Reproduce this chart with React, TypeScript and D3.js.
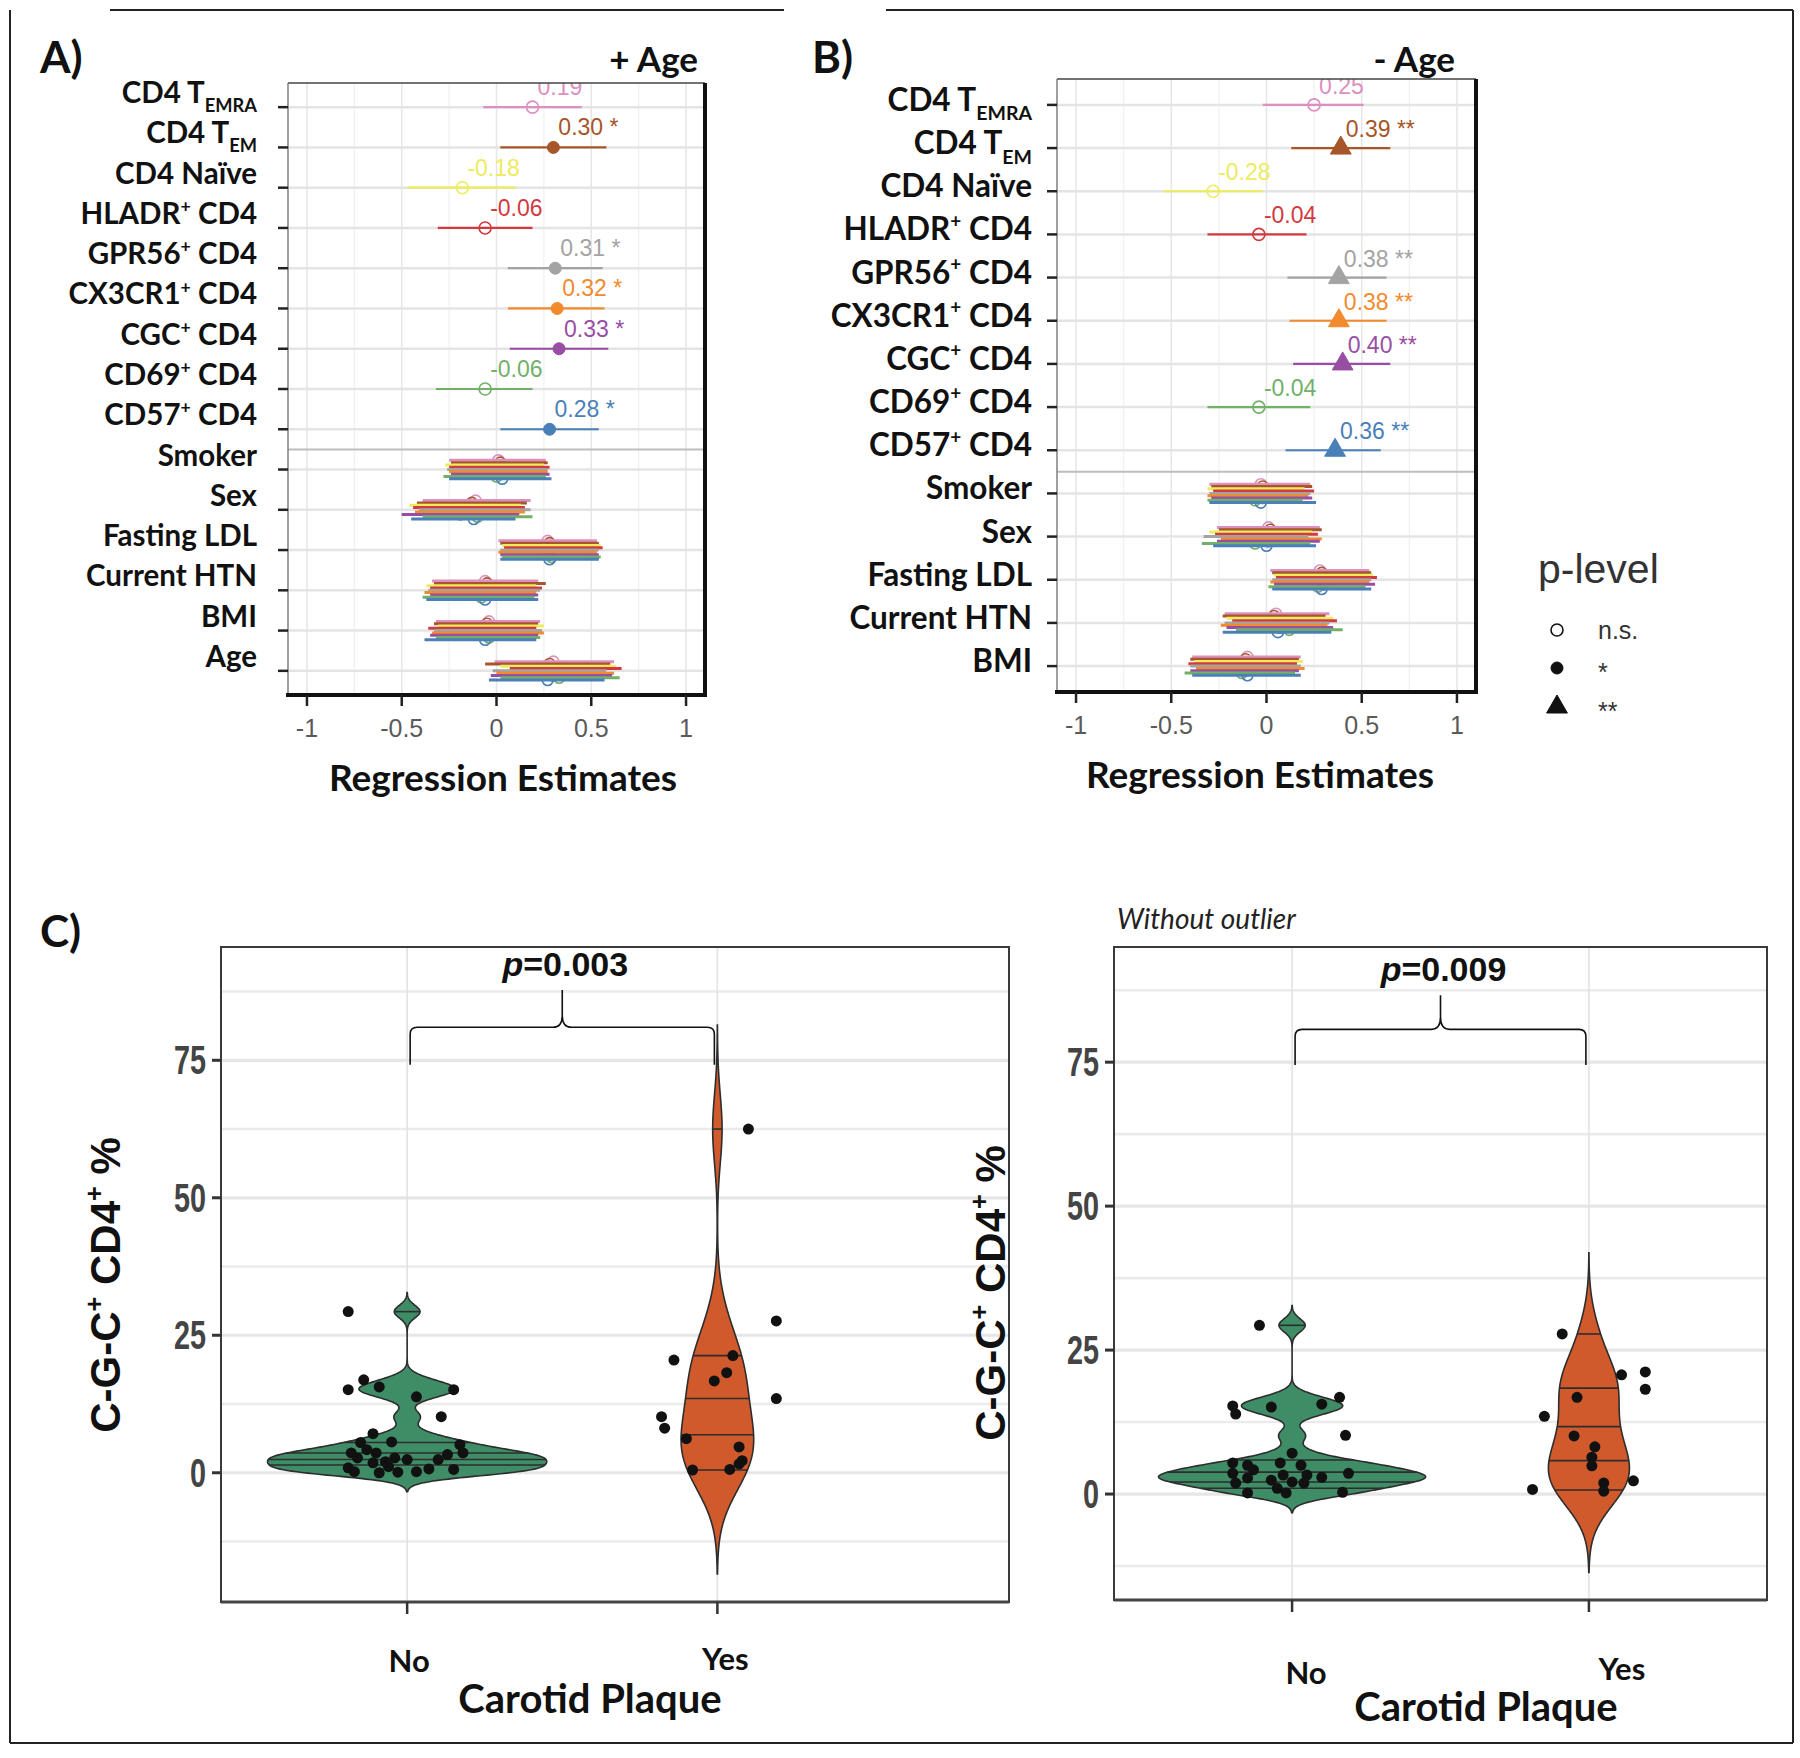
import React from "react";
import * as d3 from "d3";

const W = 1800;
const H = 1758;

const SANS = "'Liberation Sans', Arial, sans-serif";
const NARROW = "'Liberation Sans Narrow', 'Liberation Sans', Arial, sans-serif";
const CAL = "Lato, 'Open Sans', sans-serif";

// ---------------- Panels A & B : regression estimates ----------------
const cellLabels = [
  "CD4 T_{EMRA}",
  "CD4 T_{EM}",
  "CD4 Naïve",
  "HLADR^{+} CD4",
  "GPR56^{+} CD4",
  "CX3CR1^{+} CD4",
  "CGC^{+} CD4",
  "CD69^{+} CD4",
  "CD57^{+} CD4",
];
const cellColors = ["#dc8fc0", "#a65628", "#ecec5c", "#d23a3f", "#a3a3a3", "#f28a2e", "#984ea3", "#72b069", "#4a80b8"];

const estA = [0.19, 0.3, -0.18, -0.06, 0.31, 0.32, 0.33, -0.06, 0.28];
const lowA = [-0.07, 0.02, -0.47, -0.31, 0.06, 0.06, 0.07, -0.32, 0.02];
const highA = [0.45, 0.58, 0.1, 0.19, 0.56, 0.57, 0.59, 0.19, 0.54];
const sigA = ["", "*", "", "", "*", "*", "*", "", "*"];

const estB = [0.25, 0.39, -0.28, -0.04, 0.38, 0.38, 0.4, -0.04, 0.36];
const lowB = [-0.02, 0.13, -0.54, -0.31, 0.11, 0.12, 0.14, -0.31, 0.1];
const highB = [0.51, 0.65, -0.02, 0.21, 0.63, 0.63, 0.65, 0.23, 0.6];
const sigB = ["", "**", "", "", "**", "**", "**", "", "**"];

const covNamesA = ["Smoker", "Sex", "Fasting LDL", "Current HTN", "BMI", "Age"];
const covEstA = [
  [0.01, 0.02, 0.0, 0.03, 0.02, 0.01, 0.02, 0.0, 0.03],
  [-0.11, -0.13, -0.17, -0.15, -0.12, -0.14, -0.19, -0.1, -0.12],
  [0.27, 0.28, 0.29, 0.3, 0.28, 0.27, 0.28, 0.29, 0.28],
  [-0.06, -0.05, -0.07, -0.04, -0.06, -0.07, -0.05, -0.08, -0.06],
  [-0.04, -0.05, -0.03, -0.06, -0.04, -0.02, -0.05, -0.04, -0.06],
  [0.3, 0.28, 0.32, 0.37, 0.29, 0.31, 0.3, 0.33, 0.27],
];
const covLowA = [
  [-0.25, -0.24, -0.27, -0.25, -0.26, -0.25, -0.24, -0.28, -0.25],
  [-0.39, -0.42, -0.46, -0.44, -0.41, -0.43, -0.5, -0.39, -0.45],
  [0.01, 0.02, 0.03, 0.04, 0.02, 0.01, 0.02, 0.03, 0.02],
  [-0.34, -0.33, -0.37, -0.35, -0.36, -0.38, -0.35, -0.39, -0.37],
  [-0.32, -0.33, -0.31, -0.36, -0.33, -0.34, -0.35, -0.32, -0.38],
  [-0.01, -0.06, 0.02, 0.07, -0.02, 0.0, -0.03, 0.02, -0.04],
];
const covHighA = [
  [0.26, 0.27, 0.25, 0.28, 0.27, 0.27, 0.28, 0.26, 0.29],
  [0.18, 0.16, 0.13, 0.15, 0.18, 0.15, 0.12, 0.19, 0.1],
  [0.53, 0.54, 0.55, 0.56, 0.54, 0.53, 0.54, 0.55, 0.54],
  [0.22, 0.26, 0.21, 0.24, 0.23, 0.21, 0.22, 0.2, 0.22],
  [0.23, 0.22, 0.25, 0.21, 0.24, 0.25, 0.22, 0.23, 0.21],
  [0.62, 0.6, 0.63, 0.66, 0.58, 0.62, 0.61, 0.65, 0.57],
];
const covSigA = [
  ["", "", "", "", "", "", "", "", ""],
  ["", "", "", "", "", "", "", "", ""],
  ["", "", "", "*", "", "", "", "", ""],
  ["", "", "", "", "", "", "", "", ""],
  ["", "", "", "", "", "", "", "", ""],
  ["", "", "", "*", "", "", "", "", ""],
];

const covNamesB = ["Smoker", "Sex", "Fasting LDL", "Current HTN", "BMI"];
const covEstB = [
  [-0.03, -0.02, -0.05, -0.01, -0.03, -0.04, -0.02, -0.06, -0.03],
  [0.01, 0.02, -0.03, 0.0, -0.05, 0.03, 0.01, -0.06, 0.0],
  [0.28, 0.29, 0.3, 0.31, 0.29, 0.28, 0.3, 0.27, 0.29],
  [0.05, 0.04, 0.07, 0.09, 0.06, 0.05, 0.07, 0.12, 0.06],
  [-0.1, -0.11, -0.09, -0.12, -0.1, -0.08, -0.11, -0.13, -0.1],
];
const covLowB = [
  [-0.3, -0.29, -0.31, -0.28, -0.3, -0.31, -0.29, -0.31, -0.3],
  [-0.26, -0.25, -0.3, -0.27, -0.33, -0.24, -0.26, -0.34, -0.28],
  [0.02, 0.03, 0.04, 0.05, 0.03, 0.02, 0.04, 0.01, 0.03],
  [-0.22, -0.23, -0.21, -0.18, -0.22, -0.24, -0.21, -0.16, -0.23],
  [-0.39, -0.4, -0.38, -0.41, -0.4, -0.37, -0.4, -0.43, -0.39],
];
const covHighB = [
  [0.23, 0.24, 0.2, 0.25, 0.23, 0.22, 0.24, 0.19, 0.26],
  [0.28, 0.29, 0.24, 0.27, 0.22, 0.29, 0.28, 0.23, 0.26],
  [0.54, 0.55, 0.56, 0.58, 0.55, 0.54, 0.57, 0.52, 0.55],
  [0.33, 0.31, 0.35, 0.37, 0.33, 0.32, 0.35, 0.4, 0.34],
  [0.18, 0.17, 0.19, 0.16, 0.18, 0.2, 0.17, 0.15, 0.18],
];
const covSigB = [
  ["", "", "", "", "", "", "", "", ""],
  ["", "", "", "", "", "", "", "", ""],
  ["", "", "", "*", "", "", "", "", ""],
  ["", "", "", "", "", "", "", "", ""],
  ["", "", "", "", "", "", "", "", ""],
];

const xTicks = [-1, -0.5, 0, 0.5, 1];
const xMinor = [-0.75, -0.25, 0.25, 0.75];
const legendLabels = ["n.s.", "*", "**"];

// ---------------- Panel C : violins ----------------
const plaqueGroups = ["No", "Yes"];
const c1NoValues = [29.3, 16.9, 15.1, 15.6, 13.8, 15.1, 10.2, 7.1, 5.5, 5.6, 3.6, 4.2, 3.6, 2.0, 2.7, 2.4, 0.9, 0.2, 0.0, 0.1, 0.2, 0.7, 2.4, 3.3, 5.1, 3.6, 0.6, 2.7, 1.8, 1.1];
const c1NoJitter = [-0.19, -0.14, -0.19, -0.09, 0.03, 0.15, 0.11, -0.11, -0.15, -0.05, -0.18, -0.13, -0.1, -0.07, -0.04, 0.0, -0.19, -0.17, -0.09, -0.03, 0.03, 0.07, 0.1, 0.13, 0.17, 0.18, 0.15, -0.16, -0.11, -0.06];
const c1YesValues = [27.6, 20.5, 21.3, 18.2, 16.7, 13.5, 10.2, 8.1, 6.2, 4.7, 2.2, 1.6, 0.5, 0.6, 62.5];
const c1YesJitter = [0.19, -0.14, 0.05, 0.03, -0.01, 0.19, -0.18, -0.17, -0.1, 0.07, 0.08, 0.07, -0.08, 0.04, 0.1];
const c1NoQuantiles = [1.4, 2.4, 3.6, 5.5, 29.3];
const c1YesQuantiles = [0.5, 6.9, 13.5, 21.3, 62.5];

const c2NoValues = [29.3, 15.3, 13.9, 15.1, 15.6, 16.8, 10.2, 5.4, 3.6, 1.9, 5.0, 4.2, 2.8, 0.2, 5.4, 7.1, 5.0, 2.4, 1.0, 0.2, 2.1, 1.9, 3.3, 2.9, 3.6, 0.3, 3.3];
const c2NoJitter = [-0.11, -0.2, -0.19, -0.07, 0.1, 0.16, 0.18, -0.2, -0.2, -0.19, -0.15, -0.13, -0.15, -0.15, -0.04, 0.0, 0.03, -0.07, -0.05, -0.02, 0.0, 0.04, 0.05, 0.1, 0.19, 0.17, -0.03];
const c2YesValues = [27.8, 20.7, 21.2, 18.2, 16.8, 13.5, 10.1, 8.2, 6.4, 4.9, 2.3, 1.9, 0.5, 0.8];
const c2YesJitter = [-0.09, 0.11, 0.19, 0.19, -0.04, -0.15, -0.05, 0.02, 0.01, 0.01, 0.15, 0.05, 0.05, -0.19];
const c2NoQuantiles = [1.0, 2.1, 3.8, 5.9, 29.3];
const c2YesQuantiles = [0.7, 5.8, 11.7, 18.4, 27.8];

const yTicksC = [0, 25, 50, 75];
const yMinorC = [-12.5, 12.5, 37.5, 62.5, 87.5];

// ---------------- helpers ----------------
function fmt(v: number): string {
  const s = Math.abs(v).toFixed(2);
  return v < 0 ? "-" + s : s;
}
function fmtTick(v: number): string {
  const s = String(Math.abs(v));
  return v < 0 ? "-" + s : s;
}

function RichText(props: any) {
  const { text, size, ...rest } = props;
  const tokens: string[] = text.split(/(_\{[^}]*\}|\^\{[^}]*\})/).filter((s: string) => s.length);
  let shift = 0;
  const kids = tokens.map((tok, i) => {
    if (tok.startsWith("_{")) {
      const s = size * 0.3;
      const d = s - shift;
      shift = s;
      return (
        <tspan key={i} dy={d} fontSize={size * 0.62}>
          {tok.slice(2, -1)}
        </tspan>
      );
    }
    if (tok.startsWith("^{")) {
      const s = -size * 0.4;
      const d = s - shift;
      shift = s;
      return (
        <tspan key={i} dy={d} fontSize={size * 0.6}>
          {tok.slice(2, -1)}
        </tspan>
      );
    }
    const d = -shift;
    shift = 0;
    return (
      <tspan key={i} dy={d}>
        {tok}
      </tspan>
    );
  });
  return (
    <text fontSize={size} {...rest}>
      {kids}
    </text>
  );
}

function Marker({ x, y, sig, color, r }: any) {
  if (sig === "**") {
    const p = d3.symbol().type(d3.symbolTriangle).size(r * r * 5.2)() as string;
    return <path d={p} transform={`translate(${x},${y})`} fill={color} stroke={color} strokeWidth={1} />;
  }
  if (sig === "*") return <circle cx={x} cy={y} r={r} fill={color} stroke={color} strokeWidth={1} />;
  return <circle cx={x} cy={y} r={r} fill="none" stroke={color} strokeWidth={1.6} />;
}

function Forest(props: any) {
  const { id, left, right, top, bottom, est, low, high, sig, covNames, covEst, covLow, covHigh, covSig, labelSize, labelDy, labelRight, valueSize, valueDy, tickLabelY } = props;
  const rows: string[] = [...cellLabels, ...covNames];
  const y = d3.scalePoint<string>().domain(rows).range([top, bottom]).padding(0.6);
  const x = d3.scaleLinear().domain([-1.1, 1.1]).range([left, right]);
  const dividerY = ((y(cellLabels[8]) as number) + (y(covNames[0]) as number)) / 2;
  const dodge = (m: number) => (m - 4) * 2.3;
  return (
    <g>
      <defs>
        <clipPath id={id}>
          <rect x={left} y={top} width={right - left} height={bottom - top} />
        </clipPath>
      </defs>
      {xMinor.map((t) => (
        <line key={"mi" + t} x1={x(t)} x2={x(t)} y1={top} y2={bottom} stroke="#f0f0f0" strokeWidth={1.2} />
      ))}
      {xTicks.map((t) => (
        <line key={"ma" + t} x1={x(t)} x2={x(t)} y1={top} y2={bottom} stroke="#e6e6e6" strokeWidth={1.5} />
      ))}
      {rows.map((r) => (
        <line key={"h" + r} x1={left} x2={right} y1={y(r)} y2={y(r)} stroke="#e4e4e4" strokeWidth={2.5} />
      ))}
      <line x1={left} x2={right + 2} y1={dividerY} y2={dividerY} stroke="#bdbdbd" strokeWidth={2} />
      <g clipPath={`url(#${id})`}>
        {cellLabels.map((c, i) => {
          const yy = y(c) as number;
          const col = cellColors[i];
          return (
            <g key={"c" + i}>
              <line x1={x(low[i])} x2={x(high[i])} y1={yy} y2={yy} stroke={col} strokeWidth={2.2} />
              <Marker x={x(est[i])} y={yy} sig={sig[i]} color={col} r={6} />
              <text x={x(est[i]) + 5} y={yy + valueDy} fill={col} fontSize={valueSize} fontFamily={NARROW}>
                {fmt(est[i]) + (sig[i] ? " " + sig[i] : "")}
              </text>
            </g>
          );
        })}
        {covNames.map((c: string, ci: number) => {
          const yy = y(c) as number;
          return (
            <g key={"cv" + c}>
              {cellColors.map((col, m) => (
                <Marker key={"p" + m} x={x(covEst[ci][m])} y={yy + dodge(m)} sig={covSig[ci][m]} color={col} r={5.5} />
              ))}
              {cellColors.map((col, m) => (
                <line key={"l" + m} x1={x(covLow[ci][m])} x2={x(covHigh[ci][m])} y1={yy + dodge(m)} y2={yy + dodge(m)} stroke={col} strokeWidth={3} />
              ))}
            </g>
          );
        })}
      </g>
      <line x1={left} x2={right} y1={top} y2={top} stroke="#444" strokeWidth={1.6} />
      <line x1={left} x2={left} y1={top} y2={bottom} stroke="#777" strokeWidth={1.4} />
      <line x1={right} x2={right} y1={top} y2={bottom + 2} stroke="#111" strokeWidth={4} />
      <line x1={left - 2} x2={right + 2} y1={bottom} y2={bottom} stroke="#111" strokeWidth={4} />
      {rows.map((r) => (
        <g key={"yt" + r}>
          <line x1={left - 10} x2={left} y1={y(r)} y2={y(r)} stroke="#222" strokeWidth={2.5} />
          <RichText
            text={r}
            size={labelSize}
            x={labelRight}
            y={(y(r) as number) + labelDy}
            textAnchor="end"
            fontFamily={CAL}
            fontWeight="bold"
            fill="#111"
          />
        </g>
      ))}
      {xTicks.map((t) => (
        <g key={"xt" + t}>
          <line x1={x(t)} x2={x(t)} y1={bottom} y2={bottom + 11} stroke="#222" strokeWidth={2.5} />
          <text x={x(t)} y={tickLabelY} textAnchor="middle" fontSize={25} fontFamily={NARROW} fill="#5a5a5a">
            {fmtTick(t)}
          </text>
        </g>
      ))}
    </g>
  );
}

const gauss = (u: number) => Math.exp(-0.5 * u * u) / Math.sqrt(2 * Math.PI);
function kdeAt(values: number[], bw: number, t: number): number {
  return (d3.mean(values, (v) => gauss((t - v) / bw)) as number) / bw;
}
function violinCurve(values: number[], bw: number): [number, number][] {
  const lo = (d3.min(values) as number) - 3 * bw;
  const hi = (d3.max(values) as number) + 3 * bw;
  const n = 300;
  return d3.range(n).map((i) => {
    const t = lo + ((hi - lo) * i) / (n - 1);
    return [t, kdeAt(values, bw, t)] as [number, number];
  });
}

function ViolinPanel(props: any) {
  const { left, right, top, bottom, yDomain, xRightUnit, groups, pLabel, brace, yTitleX, yTitleY, xLabY, xLabDy, titleY } = props;
  const x = d3.scaleLinear().domain([-0.6, xRightUnit]).range([left, right]);
  const y = d3.scaleLinear().domain(yDomain).range([bottom, top]);
  const step = x(1) - x(0);
  const curves = groups.map((g: any) => violinCurve(g.values, g.bw));
  const maxD = d3.max(curves.flat(), (p: any) => p[1]) as number;
  const hw = (d: number) => (d / maxD) * 0.45 * step;
  const bx0 = x(0) + 3;
  const bx1 = x(1) - 3;
  const bm = (bx0 + bx1) / 2;
  const yH = y(brace.h);
  const yL = y(brace.leg);
  const yT = y(brace.tip);
  const bracePath =
    `M${bx0},${yL} L${bx0},${yH + 7} Q${bx0},${yH} ${bx0 + 7},${yH} L${bm - 9},${yH} Q${bm},${yH} ${bm},${yH - 12} L${bm},${yT}` +
    ` M${bm},${yH - 12} Q${bm},${yH} ${bm + 9},${yH} L${bx1 - 7},${yH} Q${bx1},${yH} ${bx1},${yH + 7} L${bx1},${yL}`;
  return (
    <g>
      {yMinorC.map((t) => (
        <line key={"mi" + t} x1={left} x2={right} y1={y(t)} y2={y(t)} stroke="#ebebeb" strokeWidth={2.6} />
      ))}
      {yTicksC.map((t) => (
        <line key={"ma" + t} x1={left} x2={right} y1={y(t)} y2={y(t)} stroke="#e6e6e6" strokeWidth={3.2} />
      ))}
      {groups.map((g: any, gi: number) => (
        <line key={"vg" + gi} x1={x(gi)} x2={x(gi)} y1={top} y2={bottom} stroke="#e3e3e3" strokeWidth={1.6} />
      ))}
      {groups.map((g: any, gi: number) => {
        const cx = x(gi);
        const area = d3
          .area<[number, number]>()
          .y((p) => y(p[0]))
          .x0((p) => cx - hw(p[1]))
          .x1((p) => cx + hw(p[1]))
          .curve(d3.curveLinear);
        return (
          <g key={"v" + gi}>
            <path d={area(curves[gi]) as string} fill={g.fill} stroke="#2d2d2d" strokeWidth={1.6} />
            {g.quantiles.map((q: number, qi: number) => {
              const w = hw(kdeAt(g.values, g.bw, q));
              return <line key={"q" + qi} x1={cx - w} x2={cx + w} y1={y(q)} y2={y(q)} stroke="#2d2d2d" strokeWidth={1.6} />;
            })}
          </g>
        );
      })}
      {groups.map((g: any, gi: number) =>
        g.values.map((v: number, i: number) => (
          <circle key={"pt" + gi + "-" + i} cx={x(gi + g.jitter[i])} cy={y(v)} r={5.5} fill="#111" />
        ))
      )}
      <rect x={left} y={top} width={right - left} height={bottom - top} fill="none" stroke="#3a3a3a" strokeWidth={2} />
      <line x1={left} x2={right} y1={bottom} y2={bottom} stroke="#444" strokeWidth={3} />
      {yTicksC.map((t) => (
        <g key={"yt" + t}>
          <line x1={left - 9} x2={left} y1={y(t)} y2={y(t)} stroke="#333" strokeWidth={3} />
          <text
            transform={`translate(${left - 15},${y(t) + 14}) scale(0.72,1)`}
            textAnchor="end"
            fontSize={40}
            fontWeight="bold"
            fontFamily={SANS}
            fill="#444"
          >
            {t}
          </text>
        </g>
      ))}
      {groups.map((g: any, gi: number) => (
        <g key={"xt" + gi}>
          <line x1={x(gi)} x2={x(gi)} y1={bottom} y2={bottom + 12} stroke="#333" strokeWidth={2.5} />
          <text x={x(gi) + xLabDy[gi][0]} y={xLabY + xLabDy[gi][1]} textAnchor="middle" fontSize={31} fontWeight="bold" fontFamily={CAL} fill="#111">
            {plaqueGroups[gi]}
          </text>
        </g>
      ))}
      <text x={props.xTitleX} y={titleY} textAnchor="middle" fontSize={40} fontWeight="bold" fontFamily={CAL} fill="#111">
        Carotid Plaque
      </text>
      <g transform={`translate(${yTitleX},${yTitleY}) rotate(-90)`}>
        <RichText text={"C-G-C^{+} CD4^{+} %"} size={42} x={0} y={0} textAnchor="middle" fontFamily={SANS} fontWeight="bold" fill="#111" />
      </g>
      <path d={bracePath} fill="none" stroke="#111" strokeWidth={1.6} />
      <text x={bm + 3} y={y(brace.tip) - 14} textAnchor="middle" fontSize={34} fontWeight="bold" fontFamily={NARROW} fill="#111">
        <tspan fontStyle="italic">p</tspan>
        <tspan>{"=" + pLabel}</tspan>
      </text>
    </g>
  );
}

export default function App() {
  return (
    <svg width={W} height={H} viewBox={`0 0 ${W} ${H}`} style={{ position: "absolute", left: 0, top: 0, background: "#fff" }}>
      <rect x={0} y={0} width={W} height={H} fill="#fff" />
      <g stroke="#222" strokeWidth={2}>
        <line x1={10} x2={10} y1={10} y2={1743} />
        <line x1={10} x2={1793} y1={1743} y2={1743} />
        <line x1={1793} x2={1793} y1={10} y2={1743} />
        <line x1={110} x2={784} y1={10} y2={10} />
        <line x1={886} x2={1793} y1={10} y2={10} />
      </g>

      {/* Panel A */}
      <text x={40} y={73} fontSize={44} fontWeight="bold" fontFamily={CAL} fill="#111">A)</text>
      <text x={698} y={72} textAnchor="end" fontSize={35} fontWeight="bold" fontFamily={CAL} fill="#111">+ Age</text>
      <Forest
        id="clipA"
        left={288}
        right={705}
        top={83}
        bottom={695}
        est={estA}
        low={lowA}
        high={highA}
        sig={sigA}
        covNames={covNamesA}
        covEst={covEstA}
        covLow={covLowA}
        covHigh={covHighA}
        covSig={covSigA}
        labelSize={29.5}
        labelDy={-4}
        labelRight={257}
        valueSize={23}
        valueDy={-12}
        tickLabelY={737}
      />
      <text x={503} y={791} textAnchor="middle" fontSize={37} fontWeight="bold" fontFamily={CAL} fill="#111">Regression Estimates</text>

      {/* Panel B */}
      <text x={812} y={73} fontSize={44} fontWeight="bold" fontFamily={CAL} fill="#111">B)</text>
      <text x={1455} y={72} textAnchor="end" fontSize={35} fontWeight="bold" fontFamily={CAL} fill="#111">- Age</text>
      <Forest
        id="clipB"
        left={1057}
        right={1476}
        top={79}
        bottom={692}
        est={estB}
        low={lowB}
        high={highB}
        sig={sigB}
        covNames={covNamesB}
        covEst={covEstB}
        covLow={covLowB}
        covHigh={covHighB}
        covSig={covSigB}
        labelSize={31.5}
        labelDy={6}
        labelRight={1032}
        valueSize={23}
        valueDy={-11}
        tickLabelY={734}
      />
      <text x={1260} y={788} textAnchor="middle" fontSize={37} fontWeight="bold" fontFamily={CAL} fill="#111">Regression Estimates</text>

      {/* legend */}
      <text x={1538} y={583} fontSize={41} fontFamily={SANS} fill="#333">p-level</text>
      {legendLabels.map((l, i) => {
        const ly = [630, 668, 707][i];
        const sg = ["", "*", "**"][i];
        return (
          <g key={"lg" + i}>
            <Marker x={1557} y={ly} sig={sg} color="#111" r={6} />
            <text x={1598} y={i === 0 ? ly + 9 : ly + 13} fontSize={25} fontFamily={SANS} fill="#333">{l}</text>
          </g>
        );
      })}

      {/* Panel C */}
      <text x={40} y={947} fontSize={44} fontWeight="bold" fontFamily={CAL} fill="#111">C)</text>
      <ViolinPanel
        left={221}
        right={1009}
        top={947}
        bottom={1602}
        yDomain={[-23.5, 95.6]}
        xRightUnit={1.94}
        groups={[
          { values: c1NoValues, jitter: c1NoJitter, bw: 1.15, fill: "#3f8d67", quantiles: c1NoQuantiles },
          { values: c1YesValues, jitter: c1YesJitter, bw: 6.3, fill: "#d05a2c", quantiles: c1YesQuantiles },
        ]}
        pLabel="0.003"
        brace={{ h: 81, leg: 74.2, tip: 87.8 }}
        yTitleX={120}
        yTitleY={1285}
        xLabY={1672}
        xLabDy={[[2, 0], [8, -2]]}
        xTitleX={590}
        titleY={1713}
      />
      <text x={1117} y={929} fontSize={28} fontStyle="italic" fontFamily={CAL} fill="#222">Without outlier</text>
      <ViolinPanel
        left={1114}
        right={1767}
        top={947}
        bottom={1600}
        yDomain={[-18.4, 95]}
        xRightUnit={1.6}
        groups={[
          { values: c2NoValues, jitter: c2NoJitter, bw: 1.15, fill: "#3f8d67", quantiles: c2NoQuantiles },
          { values: c2YesValues, jitter: c2YesJitter, bw: 4.7, fill: "#d05a2c", quantiles: c2YesQuantiles },
        ]}
        pLabel="0.009"
        brace={{ h: 80.7, leg: 74.5, tip: 86.6 }}
        yTitleX={1005}
        yTitleY={1293}
        xLabY={1684}
        xLabDy={[[14, 0], [33, -4]]}
        xTitleX={1486}
        titleY={1721}
      />
    </svg>
  );
}
